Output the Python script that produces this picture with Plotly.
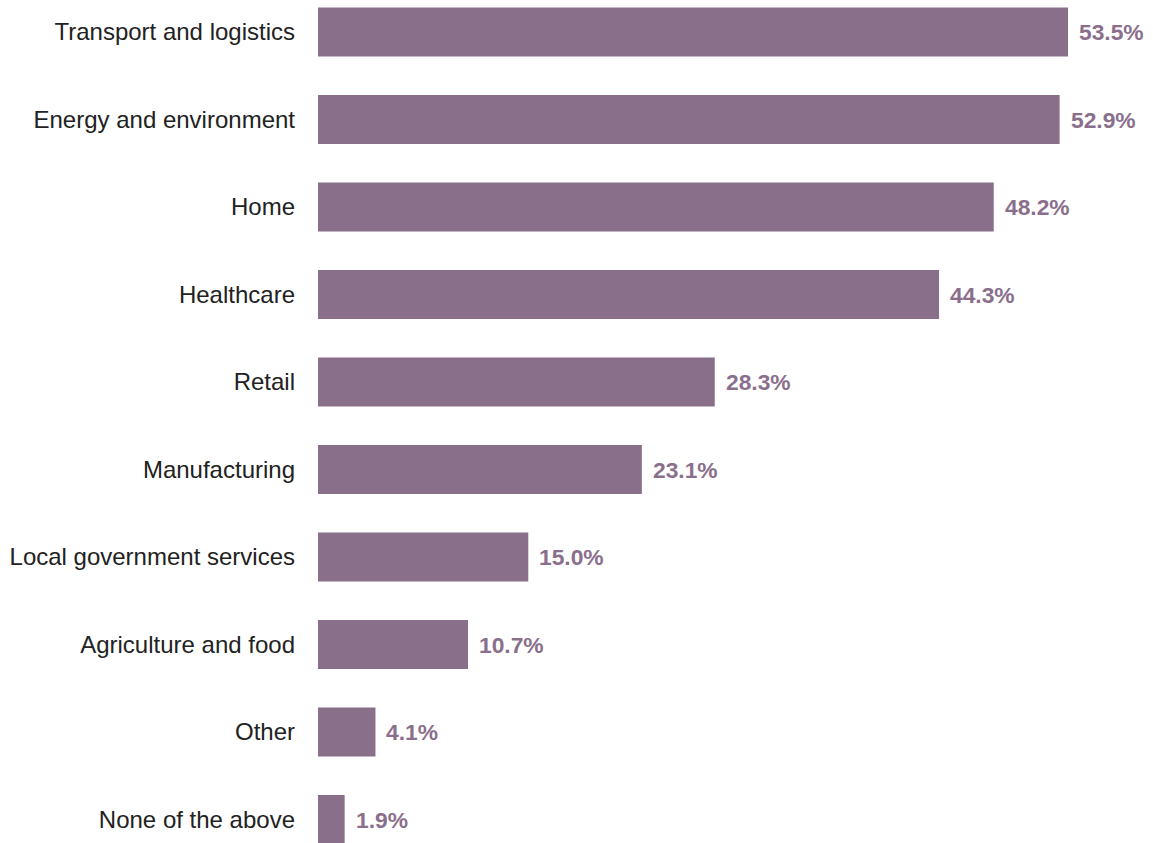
import plotly.graph_objects as go

categories = [
    "Transport and logistics",
    "Energy and environment",
    "Home",
    "Healthcare",
    "Retail",
    "Manufacturing",
    "Local government services",
    "Agriculture and food",
    "Other",
    "None of the above",
]
shares = [53.5, 52.9, 48.2, 44.3, 28.3, 23.1, 15.0, 10.7, 4.1, 1.9]

BAR_COLOR = "#8a6f8a"
LABEL_COLOR = "#8a6f8c"

fig = go.Figure(
    go.Bar(
        x=shares,
        y=categories,
        orientation="h",
        marker=dict(color=BAR_COLOR, line=dict(width=0)),
        width=0.56,
        hoverinfo="skip",
    )
)

# value labels just past the end of each bar
for cat, val in zip(categories, shares):
    fig.add_annotation(
        x=val,
        y=cat,
        text=f"<b>{val:.1f}%</b>",
        showarrow=False,
        xanchor="left",
        yanchor="middle",
        xshift=9,
        font=dict(family="Liberation Sans, Arial, sans-serif", size=22.8, color=LABEL_COLOR),
    )

fig.update_layout(
    width=1153,
    height=843,
    margin=dict(l=318, r=0, t=0, b=0),
    paper_bgcolor="white",
    plot_bgcolor="white",
    showlegend=False,
    bargap=0.44,
    xaxis=dict(
        range=[0, 59.56],
        visible=False,
        showgrid=False,
        zeroline=False,
    ),
    yaxis=dict(
        type="category",
        categoryorder="array",
        categoryarray=categories,
        range=[9.268, -0.366],
        showgrid=False,
        zeroline=False,
        showline=False,
        ticks="",
        ticklabelstandoff=22,
        tickfont=dict(family="Liberation Sans, Arial, sans-serif", size=24, color="#222222"),
    ),
)

fig.write_html("out.html")
